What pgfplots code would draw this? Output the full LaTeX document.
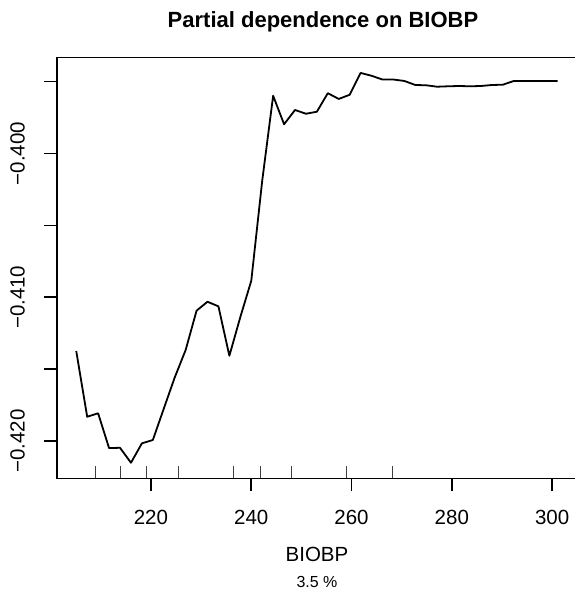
\documentclass[border=0pt]{standalone}
\usepackage{fontspec}
\setmainfont{Liberation Sans}
\usepackage{pgfplots}
\pgfplotsset{compat=1.18}
\begin{document}
\begin{tikzpicture}
\useasboundingbox (-57bp,-116.6bp) rectangle (518bp,478.4bp);
\begin{axis}[
  at={(0,0)}, anchor=south west,
  scale only axis, width=519.8bp, height=421bp,
  xmin=201.27, xmax=304.92, ymin=-0.42260, ymax=-0.39331,
  axis line style={line width=1.6bp, black},
  tick pos=left, tick align=outside,
  major tick length=13bp,
  every tick/.style={line width=1.6bp, black},
  scaled ticks=false,
  xtick={220,240,260,280,300},
  xticklabels={220,240,260,280,300},
  ytick={-0.420,-0.415,-0.410,-0.405,-0.400,-0.395},
  yticklabels={−0.420,,−0.410,,−0.400,},
  tick label style={font=\fontsize{20.5bp}{24bp}\selectfont, inner sep=0pt},
  xticklabel style={anchor=north, yshift=-18.6bp},
  yticklabel style={xshift=-19bp, rotate=90, anchor=south},
]
\addplot[black!75, line width=0.9bp, quiver={u=0, v=0.000884}, -] coordinates {
(209.03,-0.42260) (214.02,-0.42260) (219.06,-0.42260) (225.44,-0.42260)
(236.55,-0.42260) (241.79,-0.42260) (248.04,-0.42260) (259.0,-0.42260)
(268.06,-0.42260)
};
\addplot[black, line width=1.8bp, line join=round, mark=none] coordinates {
(205.11,-0.41374) (207.29,-0.41831) (209.47,-0.41807) (211.65,-0.42049)
(213.83,-0.42047) (216.02,-0.42151) (218.20,-0.42016) (220.38,-0.41993)
(222.56,-0.41775) (224.74,-0.41558) (226.92,-0.41367) (229.10,-0.41093)
(231.28,-0.41031) (233.46,-0.41063) (235.64,-0.41407) (237.83,-0.41137)
(240.01,-0.40885) (242.19,-0.40189) (244.37,-0.39598) (246.55,-0.39796)
(248.73,-0.39697) (250.91,-0.39723) (253.09,-0.39709) (255.27,-0.39580)
(257.45,-0.39620) (259.63,-0.39591) (261.82,-0.39439) (264.00,-0.39459)
(266.18,-0.39485) (268.36,-0.39485) (270.54,-0.39495) (272.72,-0.39523)
(274.90,-0.39525) (277.08,-0.39535) (279.26,-0.39532) (281.44,-0.39530)
(283.63,-0.39532) (285.81,-0.39530) (287.99,-0.39523) (290.17,-0.39521)
(292.35,-0.39495) (294.53,-0.39495) (296.71,-0.39495) (298.89,-0.39495)
(301.08,-0.39495)
};
\end{axis}
\node[anchor=base, font=\bfseries\fontsize{22bp}{26bp}\selectfont, inner sep=0pt] at (266bp,450.4bp) {Partial dependence on BIOBP};
\node[anchor=base, font=\fontsize{20.5bp}{24bp}\selectfont, inner sep=0pt] at (260bp,-83.3bp) {BIOBP};
\node[anchor=base, font=\fontsize{16bp}{19bp}\selectfont, inner sep=0pt] at (260bp,-108.6bp) {3.5 \%};
\end{tikzpicture}
\end{document}
